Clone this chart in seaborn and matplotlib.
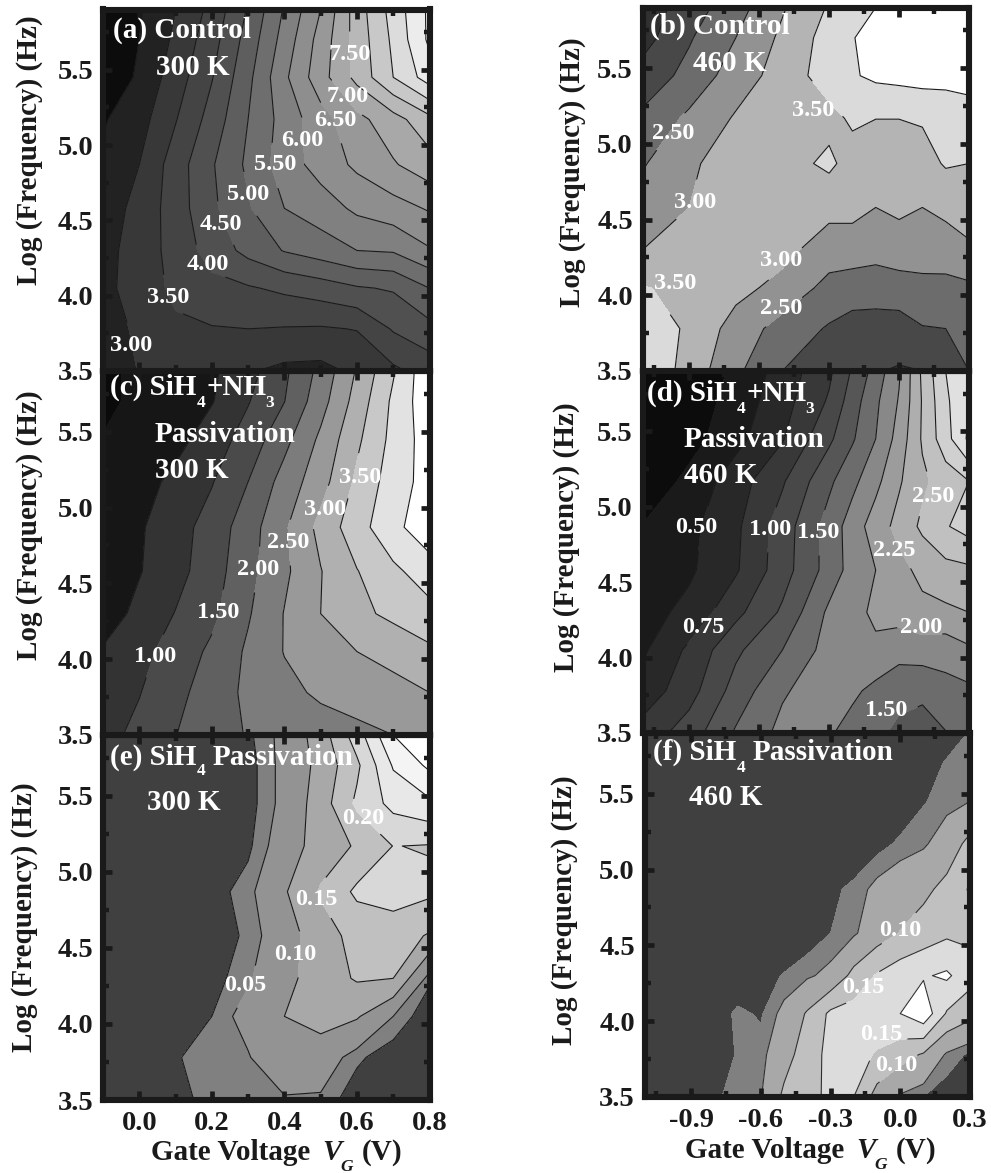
import numpy as np
import matplotlib
matplotlib.use("Agg")
import matplotlib.pyplot as plt
import seaborn as sns
from matplotlib.ticker import MultipleLocator

W, H = 991, 1173

sns.set_theme(style="ticks")
plt.rcParams['font.family'] = ['Liberation Serif', 'DejaVu Serif']
plt.rcParams['font.weight'] = 'bold'
plt.rcParams['axes.unicode_minus'] = False

# log frequency rows, bottom to top
log_f = [3.5, 3.78, 4.05, 4.3, 4.58, 4.87, 5.17, 5.45, 5.7, 5.9]

# gate voltage columns
vg_left = [-0.1, 0.0, 0.1, 0.2, 0.3, 0.4, 0.5, 0.6, 0.7, 0.8]
vg_right = [-1.1, -0.9, -0.7, -0.5, -0.3, -0.2, -0.1, 0.0, 0.1, 0.2, 0.3]
vg_f = [-1.1, -0.9, -0.8, -0.7, -0.6, -0.5, -0.4, -0.3, -0.2, -0.1, 0.0, 0.1, 0.2, 0.3]

# (a) control 300 K
z_a = [
    [2.70, 3.02, 3.15, 3.12, 3.04, 2.88, 2.85, 3.10, 3.40, 3.70],
    [2.75, 3.10, 3.42, 3.47, 3.50, 3.47, 3.45, 3.52, 4.05, 4.35],
    [2.85, 3.25, 3.60, 3.85, 3.95, 4.10, 4.25, 4.45, 4.55, 5.00],
    [2.85, 3.20, 3.70, 4.20, 4.65, 5.03, 5.25, 5.50, 5.55, 5.95],
    [2.75, 3.15, 3.75, 4.40, 4.95, 5.50, 5.75, 6.10, 6.30, 6.55],
    [2.60, 3.00, 3.75, 4.45, 5.10, 5.75, 6.20, 6.60, 6.95, 7.30],
    [2.45, 2.80, 3.47, 4.20, 5.00, 5.70, 6.30, 6.85, 7.30, 7.85],
    [2.00, 2.60, 3.25, 3.97, 4.87, 5.90, 6.80, 7.65, 8.50, 9.25],
    [1.95, 2.50, 3.10, 3.80, 4.70, 5.70, 6.70, 7.70, 8.60, 9.60],
    [2.00, 2.45, 3.00, 3.65, 4.55, 5.55, 6.50, 7.75, 8.70, 9.60],
]
levels_a = [2.5, 3.0, 3.5, 4.0, 4.5, 5.0, 5.5, 6.0, 6.5, 7.0, 7.5, 8.0, 8.5, 9.0, 9.5]
labels_a = [(3.0, -0.023, 3.67), (3.5, 0.081, 3.99), (4.0, 0.19, 4.21), (4.5, 0.225, 4.47),
            (5.0, 0.30, 4.67), (5.5, 0.374, 4.87), (6.0, 0.45, 5.03), (6.5, 0.54, 5.16),
            (7.0, 0.576, 5.32), (7.5, 0.58, 5.60)]

# (b) control 460 K
z_b = [
    [3.95, 3.30, 2.60, 2.00, 1.75, 1.63, 1.53, 1.45, 1.50, 1.75, 2.00],
    [3.90, 3.40, 2.80, 2.30, 1.95, 1.80, 1.75, 1.80, 1.97, 2.00, 2.20],
    [3.52, 3.42, 3.15, 2.85, 2.34, 2.25, 2.27, 2.25, 2.38, 2.33, 2.40],
    [3.00, 3.30, 3.30, 3.15, 2.75, 2.75, 2.65, 2.80, 2.70, 2.80, 2.95],
    [2.75, 3.00, 3.20, 3.25, 3.15, 3.15, 3.00, 3.08, 3.00, 3.10, 3.15],
    [2.45, 2.95, 3.15, 3.30, 3.60, 3.30, 3.30, 3.30, 3.30, 3.55, 3.50],
    [2.10, 2.60, 3.05, 3.30, 3.35, 3.58, 3.505, 3.505, 3.55, 3.51, 3.65],
    [1.70, 2.15, 2.75, 3.20, 3.75, 3.95, 4.10, 4.15, 4.20, 4.25, 4.30],
    [1.30, 1.95, 2.50, 3.10, 3.70, 3.95, 4.40, 4.60, 4.60, 4.60, 4.60],
    [1.20, 1.75, 2.30, 2.95, 3.55, 3.80, 4.00, 4.30, 4.50, 4.50, 4.50],
]
levels_b = [1.5, 2.0, 2.5, 3.0, 3.5, 4.0]
labels_b = [(2.5, -0.97, 5.07), (3.0, -0.876, 4.61), (3.5, -0.37, 5.22),
            (3.0, -0.504, 4.23), (2.5, -0.504, 3.91), (3.5, -0.96, 4.08)]

# (c) SiH4+NH3 300 K
z_c = [
    [0.85, 1.12, 1.49, 1.80, 2.03, 2.15, 2.27, 2.38, 2.50, 2.65],
    [0.70, 0.98, 1.35, 1.75, 2.10, 2.37, 2.58, 2.70, 2.85, 3.00],
    [0.55, 0.85, 1.20, 1.60, 2.08, 2.52, 2.75, 3.00, 3.15, 3.40],
    [0.25, 0.63, 1.02, 1.38, 1.95, 2.52, 3.00, 3.37, 3.62, 3.85],
    [0.10, 0.47, 0.83, 1.27, 1.85, 2.40, 2.98, 3.48, 3.90, 4.25],
    [0.05, 0.44, 0.80, 1.20, 1.77, 2.43, 3.15, 3.80, 4.35, 4.85],
    [0.03, 0.30, 0.63, 0.97, 1.50, 2.20, 2.80, 3.60, 4.25, 4.70],
    [0.02, 0.15, 0.33, 0.75, 1.20, 1.85, 2.60, 3.40, 4.15, 4.75],
    [-0.1, 0.10, 0.25, 0.47, 0.97, 1.49, 2.30, 3.20, 4.10, 4.85],
    [-0.1, 0.10, 0.25, 0.42, 0.82, 1.40, 2.15, 3.05, 3.95, 4.90],
]
levels_c = [0.0, 0.5, 1.0, 1.5, 2.0, 2.5, 3.0, 3.5, 4.0, 4.5]
labels_c = [(1.0, 0.044, 4.02), (1.5, 0.218, 4.31), (2.0, 0.328, 4.59),
            (2.5, 0.411, 4.77), (3.0, 0.512, 4.99), (3.5, 0.608, 5.20)]

# (d) SiH4+NH3 460 K
z_d = [
    [0.85, 1.12, 1.53, 1.82, 1.78, 1.65, 1.55, 1.45, 1.42, 1.49, 1.65],
    [0.60, 0.90, 1.35, 1.72, 1.90, 1.80, 1.68, 1.57, 1.54, 1.67, 1.70],
    [0.46, 0.80, 1.20, 1.50, 1.85, 1.92, 1.95, 1.85, 1.88, 1.85, 1.96],
    [0.40, 0.57, 0.93, 1.29, 1.80, 1.92, 2.05, 2.10, 2.18, 2.20, 2.25],
    [0.33, 0.46, 0.72, 1.14, 1.60, 1.85, 2.00, 2.17, 2.32, 2.42, 2.45],
    [0.26, 0.43, 0.70, 1.12, 1.60, 1.87, 2.12, 2.33, 2.55, 2.73, 2.85],
    [0.05, 0.32, 0.63, 0.97, 1.45, 1.68, 1.93, 2.22, 2.45, 2.62, 2.75],
    [-0.05, 0.15, 0.42, 0.73, 1.20, 1.47, 1.75, 2.10, 2.53, 2.90, 3.30],
    [-0.10, 0.10, 0.35, 0.65, 1.03, 1.38, 1.70, 2.02, 2.52, 2.95, 3.25],
    [-0.10, 0.05, 0.30, 0.60, 0.95, 1.28, 1.60, 1.97, 2.55, 3.00, 3.27],
]
levels_d = [0.25, 0.5, 0.75, 1.0, 1.25, 1.5, 1.75, 2.0, 2.25, 2.5, 2.75, 3.0, 3.25]
labels_d = [(0.5, -0.868, 4.86), (0.75, -0.84, 4.20), (1.0, -0.554, 4.85), (1.5, -0.347, 4.83),
            (2.25, -0.019, 4.71), (2.0, 0.096, 4.20), (1.5, -0.054, 3.65), (2.5, 0.146, 5.07)]

# (e) SiH4 300 K
z_e = [
    [0.0, 0.0, 0.015, 0.045, 0.045, 0.045, 0.045, 0.015, 0.0, 0.0],
    [0.0, 0.0, 0.028, 0.040, 0.047, 0.088, 0.073, 0.035, 0.015, 0.0],
    [0.0, 0.0, 0.010, 0.030, 0.065, 0.100, 0.120, 0.105, 0.050, 0.012],
    [0.0, 0.0, 0.005, 0.020, 0.045, 0.085, 0.125, 0.155, 0.150, 0.035],
    [0.0, 0.0, 0.005, 0.015, 0.035, 0.075, 0.130, 0.165, 0.175, 0.145],
    [0.0, 0.0, 0.005, 0.020, 0.040, 0.095, 0.155, 0.210, 0.220, 0.210],
    [0.0, 0.0, 0.0, 0.010, 0.025, 0.070, 0.125, 0.155, 0.201, 0.197],
    [0.0, 0.0, 0.0, 0.005, 0.020, 0.060, 0.125, 0.210, 0.265, 0.290],
    [0.0, 0.0, 0.0, 0.005, 0.020, 0.060, 0.115, 0.190, 0.305, 0.360],
    [0.0, 0.0, 0.0, 0.005, 0.025, 0.060, 0.125, 0.225, 0.350, 0.450],
]
levels_e = [0.03, 0.05, 0.10, 0.15, 0.20, 0.25, 0.30, 0.35]
labels_e = [(0.05, 0.292, 4.25), (0.10, 0.429, 4.46), (0.15, 0.487, 4.82), (0.20, 0.617, 5.35)]

# (f) SiH4 460 K
z_f = [
    [0.0, 0.0, 0.025, 0.040, 0.048, 0.110, 0.135, 0.160, 0.150, 0.080, 0.045, 0.030, 0.015, 0.0],
    [0.0, 0.0, 0.015, 0.032, 0.040, 0.080, 0.125, 0.165, 0.170, 0.145, 0.120, 0.095, 0.045, 0.025],
    [0.0, 0.0, 0.015, 0.035, 0.027, 0.060, 0.105, 0.160, 0.170, 0.185, 0.200, 0.235, 0.145, 0.115],
    [0.0, 0.0, 0.0, 0.010, 0.020, 0.032, 0.045, 0.060, 0.115, 0.155, 0.180, 0.195, 0.208, 0.170],
    [0.0, 0.0, 0.0, 0.0, 0.0, 0.005, 0.015, 0.030, 0.045, 0.075, 0.102, 0.123, 0.141, 0.140],
    [0.0, 0.0, 0.0, 0.0, 0.0, 0.0, 0.005, 0.025, 0.035, 0.060, 0.075, 0.088, 0.115, 0.155],
    [0.0, 0.0, 0.0, 0.0, 0.0, 0.0, 0.0, 0.005, 0.012, 0.020, 0.035, 0.045, 0.070, 0.115],
    [0.0, 0.0, 0.0, 0.0, 0.0, 0.0, 0.0, 0.0, 0.0, 0.0, 0.010, 0.028, 0.040, 0.050],
    [0.0, 0.0, 0.0, 0.0, 0.0, 0.0, 0.0, 0.0, 0.0, 0.0, 0.0, 0.015, 0.033, 0.045],
    [0.0, 0.0, 0.0, 0.0, 0.0, 0.0, 0.0, 0.0, 0.0, 0.0, 0.0, 0.0, 0.015, 0.032],
]
levels_f = [0.03, 0.05, 0.10, 0.15, 0.20]
labels_f = [(0.10, 0.0, 4.60), (0.15, -0.161, 4.22), (0.15, -0.083, 3.91), (0.10, -0.019, 3.71)]

greys_a = ['#0c0c0c', '#222222', '#383838', '#444444', '#505050', '#5e5e5e', '#6e6e6e', '#808080',
           '#8e8e8e', '#989898', '#a8a8a8', '#b8b8b8', '#c8c8c8', '#dcdcdc', '#ececec', '#f8f8f8']
greys_b = ['#303030', '#484848', '#6c6c6c', '#929292', '#b4b4b4', '#dadada', '#ffffff']
greys_c = ['#0a0a0a', '#161616', '#333333', '#4a4a4a', '#606060', '#7c7c7c', '#999999',
           '#b0b0b0', '#c8c8c8', '#e2e2e2', '#ffffff']
greys_d = ['#0c0c0c', '#1a1a1a', '#282828', '#383838', '#484848', '#565656', '#6c6c6c', '#888888',
           '#9c9c9c', '#aeaeae', '#c0c0c0', '#d0d0d0', '#e0e0e0', '#f0f0f0']
greys_e = ['#404040', '#808080', '#939393', '#a8a8a8', '#c0c0c0', '#d8d8d8', '#e8e8e8', '#f4f4f4', '#ffffff']
greys_f = ['#404040', '#808080', '#a8a8a8', '#c0c0c0', '#dcdcdc', '#ffffff']


def put_text(fig, s, x, y, size=21, color='k', **kw):
    # x, y in pixels from the top left of the picture
    fig.text(x / W, 1 - y / H, s, fontsize=size, color=color, zorder=10, **kw)


def make_axes(fig, left, right, top, bottom, xlim, xstep):
    ax = fig.add_axes([left / W, 1 - bottom / H, (right - left) / W, (bottom - top) / H])
    ax.set_xlim(*xlim)
    ax.set_ylim(3.5, 5.9)
    ax.set_axisbelow(False)
    ax.xaxis.set_major_locator(MultipleLocator(xstep))
    ax.xaxis.set_minor_locator(MultipleLocator(xstep / 2))
    ax.yaxis.set_major_locator(MultipleLocator(0.5))
    ax.yaxis.set_minor_locator(MultipleLocator(0.25))
    ax.tick_params(which='major', direction='in', top=True, right=True, length=6.5, width=3.4,
                   labelsize=20.5, color='k', labelcolor='k')
    ax.tick_params(which='minor', direction='in', top=True, right=True, length=4.2, width=3.2, color='k')
    ax.tick_params(axis='x', pad=8)
    ax.tick_params(axis='y', pad=7)
    ax.yaxis.set_major_formatter('{x:.1f}')
    ax.xaxis.set_major_formatter('{x:.1f}')
    for s in ax.spines.values():
        s.set_linewidth(4.4)
        s.set_color('k')
        s.set_zorder(5)
    return ax


def draw_panel(ax, x, z, levels, greys, labels, line_levels=None, line_color='k'):
    z = np.array(z)
    ax.contourf(x, log_f, z, levels=levels, colors=sns.color_palette(greys), extend='both')
    cs = ax.contour(x, log_f, z, levels=line_levels or levels, colors=line_color, linewidths=0.8)
    for val, lx, ly in labels:
        # clabel only breaks the nearest line, text and place are then set from the list
        txt = ax.clabel(cs, manual=[(lx, ly)], fmt='%.2f', fontsize=17.5, colors='w',
                        inline=True, inline_spacing=2)
        t = txt[-1]
        t.set_text('%.2f' % val)
        t.set_rotation(0)
        t.set_position((lx, ly))
        t.set_fontweight('bold')


fig = plt.figure(figsize=(W / 100, H / 100), dpi=100)

xlim_l = (-0.1, 0.8)
xlim_r = (-1.1, 0.3)

ax_e = make_axes(fig, 103, 429.5, 735, 1100, xlim_l, 0.2)
ax_f = make_axes(fig, 644.5, 970, 733, 1097, xlim_r, 0.3)
ax_c = make_axes(fig, 103, 429.5, 371, 735, xlim_l, 0.2)
ax_d = make_axes(fig, 642.5, 969, 371, 733, xlim_r, 0.3)
ax_a = make_axes(fig, 103, 429.5, 9.5, 371, xlim_l, 0.2)
ax_b = make_axes(fig, 642.5, 969, 7.5, 371, xlim_r, 0.3)

draw_panel(ax_a, vg_left, z_a, levels_a, greys_a, labels_a)
draw_panel(ax_b, vg_right, z_b, levels_b, greys_b, labels_b)
draw_panel(ax_c, vg_left, z_c, levels_c, greys_c, labels_c, line_levels=levels_c[1:])
draw_panel(ax_d, vg_right, z_d, levels_d, greys_d, labels_d, line_levels=levels_d[1:])
draw_panel(ax_e, vg_left, z_e, levels_e, greys_e, labels_e)
draw_panel(ax_f, vg_f, z_f, levels_f, greys_f, labels_f, line_levels=levels_f[1:], line_color='#303030')

for ax in (ax_a, ax_b, ax_c, ax_d):
    ax.tick_params(axis='x', labelbottom=False)

panel_text = [
    ('(a) Control', 113, 38), ('300 K', 156, 75),
    ('(b) Control', 650, 34), ('460 K', 693, 71),
    ('(c) SiH', 110, 395), ('+NH', 207, 395), ('Passivation', 155, 442), ('300 K', 155, 478),
    ('(d) SiH', 647, 401), ('+NH', 746, 401), ('Passivation', 684, 447), ('460 K', 684, 483),
    ('(e) SiH', 110, 765), ('Passivation', 213, 765), ('300 K', 147, 810),
    ('(f) SiH', 653, 760), ('Passivation', 753, 760), ('460 K', 689, 805),
]
for s, x, y in panel_text:
    put_text(fig, s, x, y, color='w', ha='left', va='baseline')

subscripts = [('4', 197, 407), ('3', 265, 407), ('4', 737, 413), ('3', 805, 413),
              ('4', 197, 775), ('4', 737, 772)]
for s, x, y in subscripts:
    put_text(fig, s, x, y, size=12.5, color='w', ha='left', va='baseline')

ylabel_pos = [(30, 150), (573, 172), (30, 525), (567, 537), (25, 917), (565, 910)]
for x, y in ylabel_pos:
    put_text(fig, 'Log (Frequency) (Hz)', x, y, rotation=90, ha='center', va='center')

# x axis titles, V with a dropped G
for x0, base in [(151, 1160), (685, 1158)]:
    put_text(fig, 'Gate Voltage', x0, base, ha='left', va='baseline')
    put_text(fig, 'V', x0 + 171, base, fontstyle='italic', ha='left', va='baseline')
    put_text(fig, 'G', x0 + 189, base + 11, size=12.5, fontstyle='italic', ha='left', va='baseline')
    put_text(fig, '(V)', x0 + 211, base, ha='left', va='baseline')

fig.savefig('out.png', dpi=100, facecolor='white')
